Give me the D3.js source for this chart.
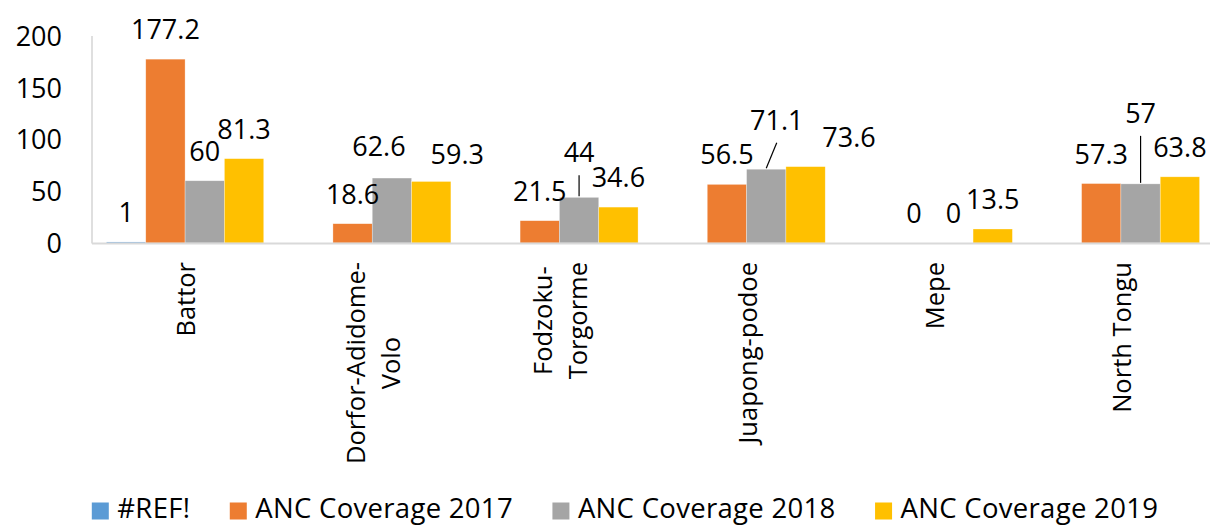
<!DOCTYPE html>
<html>
<head>
<meta charset="utf-8">
<script src="https://cdn.jsdelivr.net/npm/d3@7"></script>
<style>
  html, body { margin: 0; padding: 0; background: #fff; }
  svg { display: block; font-family: "Open Sans", "Noto Sans", sans-serif; }
</style>
</head>
<body>
<script>
// ---- data ----
const categories = ["Battor", "Dorfor-Adidome-Volo", "Fodzoku-Torgorme", "Juapong-podoe", "Mepe", "North Tongu"];
const categoryLines = [["Battor"], ["Dorfor-Adidome-", "Volo"], ["Fodzoku-", "Torgorme"], ["Juapong-podoe"], ["Mepe"], ["North Tongu"]];
const seriesNames = ["#REF!", "ANC Coverage 2017", "ANC Coverage 2018", "ANC Coverage 2019"];
const refValues = [1, null, null, null, null, null];
const anc2017 = [177.2, 18.6, 21.5, 56.5, 0, 57.3];
const anc2018 = [60, 62.6, 44, 71.1, 0, 57];
const anc2019 = [81.3, 59.3, 34.6, 73.6, 13.5, 63.8];
const yTicks = [0, 50, 100, 150, 200];
const seriesValues = [refValues, anc2017, anc2018, anc2019];

// ---- styling ----
const colors = ["#5B9BD5", "#ED7D31", "#A5A5A5", "#FFC000"];
// manual label nudges (series index, category index)
const labelNudges = {
  "2|1": { dx: -13, dy: -2 },
  "3|1": { dx: 26, dy: 2.5 },
  "2|2": { dx: 0, dy: -15, leader: true },
  "2|3": { dx: 10.5, dy: -19.5, leader: true },
  "3|3": { dx: 43.5, dy: 0 },
  "2|5": { dx: 0, dy: -41, leader: true }
};

const W = 1210, H = 525;
const svg = d3.select("body").append("svg").attr("width", W).attr("height", H);

const x = d3.scaleBand().domain(categories).range([91.5, 1214.5]).padding(0);
const xs = d3.scaleBand().domain(seriesNames).range([0, x.bandwidth()]).paddingInner(0).paddingOuter(0.38);
const y = d3.scaleLinear().domain([0, 200]).range([243, 35.5]);

// y axis
const yAxis = svg.append("g").attr("transform", "translate(91.5,0)")
  .call(d3.axisLeft(y).tickValues(yTicks).tickSize(0).tickSizeOuter(0).tickPadding(29.5));
yAxis.select(".domain").attr("stroke", "#bfbfbf").attr("stroke-width", 1);
yAxis.selectAll("text").attr("font-size", 27).attr("fill", "#000")
  .attr("font-family", "'Open Sans', sans-serif").attr("dy", "0.36em");

// bars
const flat = [];
seriesNames.forEach((s, si) => {
  categories.forEach((c, ci) => {
    const v = seriesValues[si][ci];
    if (v !== null && v !== undefined) flat.push({ s, si, c, ci, v });
  });
});

svg.append("g").selectAll("rect").data(flat).join("rect")
  .attr("x", d => x(d.c) + xs(d.s))
  .attr("width", xs.bandwidth())
  .attr("y", d => y(d.v))
  .attr("height", d => y(0) - y(d.v))
  .attr("fill", d => colors[d.si])
  .attr("stroke", "rgba(255,255,255,0.5)")
  .attr("stroke-width", 0.6);

// x axis line
const xAxis = svg.append("g").attr("transform", `translate(0,${y(0)})`)
  .call(d3.axisBottom(x).tickSize(0).tickSizeOuter(0).tickFormat(""));
xAxis.select(".domain").attr("stroke", "#d9d9d9").attr("stroke-width", 2);

// data labels + leader lines
const lbl = svg.append("g");
flat.forEach(d => {
  const n = labelNudges[d.si + "|" + d.ci] || { dx: 0, dy: 0 };
  const cx = x(d.c) + xs(d.s) + xs.bandwidth() / 2;
  const lx = cx + n.dx;
  const ly = y(d.v) - 20 + n.dy;
  if (n.leader) {
    lbl.append("line")
      .attr("x1", lx).attr("y1", ly + 13)
      .attr("x2", cx).attr("y2", y(d.v) - 1)
      .attr("stroke", "#000").attr("stroke-width", 1.2);
  }
  lbl.append("text")
    .attr("x", lx).attr("y", ly)
    .attr("text-anchor", "middle")
    .attr("font-size", 27)
    .attr("fill", "#000")
    .text(d3.format("")(d.v));
});

// category labels (rotated)
const cat = svg.append("g");
categories.forEach((c, ci) => {
  const lines = categoryLines[ci];
  const cx = x(c) + x.bandwidth() / 2;
  const g = cat.append("g").attr("transform", `translate(${cx},262) rotate(-90)`);
  const texts = lines.map((t, i) => g.append("text")
    .attr("font-size", 25.5).attr("fill", "#000")
    .attr("text-anchor", "middle")
    .attr("y", 10 + (i - (lines.length - 1) / 2) * 35)
    .text(t));
  const widths = texts.map(t => t.node().getComputedTextLength());
  const maxW = d3.max(widths);
  texts.forEach(t => t.attr("x", -maxW / 2));
});

// legend
const leg = svg.append("g");
const sq = 17, gapST = 8.5, gapItem = 39.5;
const items = seriesNames.map((s, i) => {
  const t = leg.append("text").attr("font-size", 27.5).attr("letter-spacing", 0.3)
    .attr("fill", "#000").attr("y", 518).text(s);
  const w = t.node().getComputedTextLength();
  return { s, i, t, w };
});
const total = d3.sum(items, d => sq + gapST + d.w) + gapItem * (items.length - 1);
let cursor = 625 - total / 2;
items.forEach(d => {
  leg.append("rect").attr("x", cursor).attr("y", 502.5).attr("width", sq).attr("height", sq).attr("fill", colors[d.i]);
  d.t.attr("x", cursor + sq + gapST);
  cursor += sq + gapST + d.w + gapItem;
});
</script>
</body>
</html>
